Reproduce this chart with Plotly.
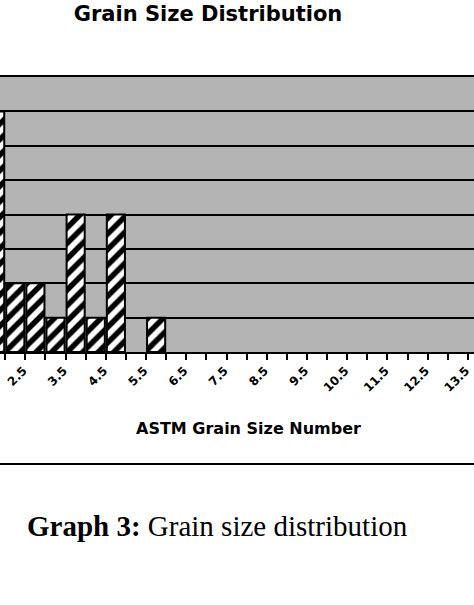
import plotly.graph_objects as go

# ASTM grain size number classes (every half number) and counts
grain_sizes = [2.0, 2.5, 3.0, 3.5, 4.0, 4.5, 5.0, 5.5, 6.0, 6.5, 7.0, 7.5, 8.0, 8.5,
               9.0, 9.5, 10.0, 10.5, 11.0, 11.5, 12.0, 12.5, 13.0, 13.5, 14.0]
counts = [7, 2, 2, 1, 4, 1, 4, 0, 1, 0, 0, 0, 0, 0,
          0, 0, 0, 0, 0, 0, 0, 0, 0, 0, 0]
label_values = [2.5, 3.5, 4.5, 5.5, 6.5, 7.5, 8.5, 9.5, 10.5, 11.5, 12.5, 13.5]
label_text = ["2.5", "3.5", "4.5", "5.5", "6.5", "7.5", "8.5", "9.5",
              "10.5", "11.5", "12.5", "13.5"]

W, H = 474, 605
top, bottom = 77, 352
plot_h = bottom - top


def py(pix):
    """pixel row -> paper y"""
    return (bottom - pix) / plot_h


fig = go.Figure()
fig.add_trace(
    go.Bar(
        x=grain_sizes,
        y=counts,
        marker=dict(
            color="white",
            # no outline on empty classes, otherwise they leave stubs on the axis
            line=dict(color="black", width=[2 if c else 0 for c in counts]),
            pattern=dict(shape="/", fgcolor="black", bgcolor="white", fgopacity=1,
                         size=11, solidity=0.5),
        ),
        showlegend=False,
        hoverinfo="skip",
    )
)

fig.update_layout(
    width=W,
    height=H,
    margin=dict(l=0, r=0, t=top, b=H - bottom),
    paper_bgcolor="white",
    plot_bgcolor="#b4b4b4",
    bargap=0.1,
    title=dict(
        text="<b>Grain Size Distribution</b>",
        x=208 / W, xanchor="center", y=1 - 14 / H, yanchor="middle",
        font=dict(family="DejaVu Sans", size=21, color="black"),
    ),
    xaxis=dict(
        range=[2.12, 13.9],
        tickmode="array",
        # rotated labels end a little right of the class centre, as in the original
        tickvals=[v + 0.2 for v in label_values],
        ticktext=[f"<b>{t}</b>" for t in label_text],
        tickangle=-45,
        tickfont=dict(family="DejaVu Sans", size=12, color="black"),
        ticks="",
        ticklabelstandoff=5,
        showgrid=False,
        zeroline=False,
        showline=True,
        linecolor="black",
        linewidth=2,
        mirror=True,
        minor=dict(ticks="outside", tick0=2.25, dtick=0.5, ticklen=6,
                   tickcolor="black", tickwidth=2, showgrid=False),
    ),
    yaxis=dict(
        range=[0, 8],
        dtick=1,
        showticklabels=False,
        showgrid=True,
        gridcolor="black",
        gridwidth=2,
        zeroline=False,
        showline=False,
    ),
)

fig.add_annotation(
    text="<b>ASTM Grain Size Number</b>",
    xref="paper", yref="paper", x=248 / W, y=py(428),
    showarrow=False, xanchor="center", yanchor="middle",
    font=dict(family="DejaVu Sans", size=16, color="black"),
)

fig.add_shape(
    type="line", xref="paper", yref="paper",
    x0=0, x1=1, y0=py(464), y1=py(464),
    line=dict(color="black", width=2),
)

fig.add_annotation(
    text="<b>Graph 3:</b> Grain size distribution",
    xref="paper", yref="paper", x=25 / W, y=py(526),
    showarrow=False, xanchor="left", yanchor="middle",
    font=dict(family="Liberation Serif", size=29, color="black"),
)

fig.write_html(
    "out.html",
    config={"displayModeBar": False},
    post_script="document.body.style.margin = '0';",
)
